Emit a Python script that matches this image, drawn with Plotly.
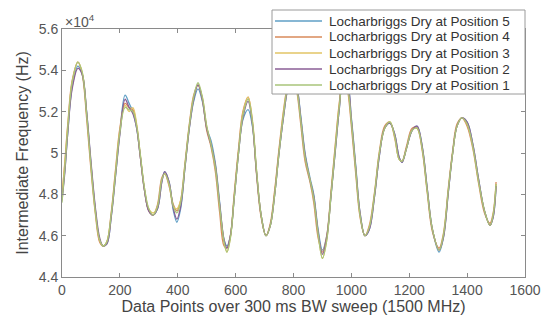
import plotly.graph_objects as go

x_points = [0, 10, 20, 35, 55, 70, 85, 100, 115, 130, 142, 155, 170, 185, 200, 218, 232, 245, 258, 270,
            285, 300, 315, 330, 345, 355, 370, 385, 397, 410, 425, 440, 455, 470, 485, 500, 515, 530, 545, 560,
            570, 582, 595, 610, 625, 643, 658, 672, 688, 705, 720, 735, 750, 765, 780, 795, 810, 825, 840, 857,
            870, 885, 900, 915, 930, 945, 958, 972, 985, 1000, 1015, 1030, 1047, 1062, 1080, 1097, 1115, 1133, 1150, 1165,
            1175, 1190, 1210, 1227, 1245, 1262, 1280, 1303, 1318, 1335, 1350, 1365, 1382, 1400, 1420, 1440, 1460, 1479, 1490, 1500]

pos5 = [4.78, 4.92, 5.10, 5.32, 5.42, 5.38, 5.20, 4.95, 4.73, 4.58, 4.55, 4.56, 4.69, 4.89, 5.10, 5.28, 5.24, 5.20, 5.12, 4.99,
        4.82, 4.72, 4.70, 4.73, 4.86, 4.91, 4.86, 4.72, 4.665, 4.73, 4.93, 5.12, 5.25, 5.31, 5.25, 5.12, 5.06, 4.95, 4.76, 4.58,
        4.55, 4.60, 4.78, 5.00, 5.16, 5.21, 5.13, 4.91, 4.70, 4.60, 4.65, 4.80, 5.00, 5.17, 5.31, 5.37, 5.33, 5.18, 5.00, 4.88,
        4.80, 4.63, 4.53, 4.60, 4.80, 5.02, 5.21, 5.35, 5.34, 5.17, 4.94, 4.71, 4.60, 4.63, 4.79, 4.99, 5.12, 5.145, 5.09, 4.98,
        4.955, 5.02, 5.11, 5.13, 5.03, 4.83, 4.63, 4.52, 4.59, 4.81, 5.00, 5.13, 5.17, 5.15, 5.04, 4.87, 4.72, 4.65, 4.69, 4.84]

pos4 = [4.79, 4.96, 5.14, 5.35, 5.44, 5.38, 5.17, 4.92, 4.71, 4.57, 4.55, 4.57, 4.71, 4.92, 5.12, 5.24, 5.22, 5.21, 5.13, 4.99,
        4.82, 4.72, 4.70, 4.75, 4.88, 4.90, 4.84, 4.75, 4.72, 4.77, 4.95, 5.14, 5.28, 5.33, 5.26, 5.11, 5.03, 4.91, 4.71, 4.55,
        4.54, 4.60, 4.80, 5.02, 5.20, 5.27, 5.15, 4.90, 4.69, 4.60, 4.66, 4.82, 5.02, 5.20, 5.33, 5.38, 5.31, 5.14, 4.96, 4.86,
        4.76, 4.59, 4.52, 4.60, 4.82, 5.05, 5.24, 5.37, 5.32, 5.13, 4.90, 4.69, 4.60, 4.65, 4.81, 5.01, 5.13, 5.15, 5.07, 4.97,
        4.96, 5.03, 5.12, 5.12, 5.01, 4.81, 4.62, 4.54, 4.61, 4.83, 5.01, 5.14, 5.17, 5.13, 5.02, 4.85, 4.71, 4.66, 4.71, 4.86]

pos3 = [4.80, 4.95, 5.13, 5.34, 5.44, 5.39, 5.19, 4.94, 4.72, 4.58, 4.55, 4.57, 4.70, 4.91, 5.11, 5.23, 5.20, 5.22, 5.14, 5.00,
        4.83, 4.73, 4.71, 4.74, 4.87, 4.90, 4.85, 4.74, 4.73, 4.77, 4.94, 5.13, 5.27, 5.33, 5.27, 5.13, 5.04, 4.93, 4.74, 4.57,
        4.52, 4.59, 4.79, 5.01, 5.19, 5.27, 5.16, 4.92, 4.70, 4.60, 4.65, 4.81, 5.01, 5.19, 5.32, 5.37, 5.32, 5.16, 4.98, 4.87,
        4.78, 4.61, 4.49, 4.58, 4.81, 5.04, 5.23, 5.36, 5.33, 5.15, 4.92, 4.70, 4.60, 4.64, 4.80, 5.00, 5.12, 5.15, 5.08, 4.97,
        4.96, 5.02, 5.11, 5.12, 5.02, 4.82, 4.63, 4.53, 4.60, 4.82, 5.00, 5.13, 5.17, 5.14, 5.03, 4.86, 4.72, 4.65, 4.70, 4.85]

pos2 = [4.77, 4.91, 5.10, 5.31, 5.41, 5.38, 5.20, 4.96, 4.74, 4.59, 4.55, 4.56, 4.69, 4.89, 5.09, 5.26, 5.22, 5.19, 5.12, 4.99,
        4.82, 4.72, 4.70, 4.73, 4.86, 4.91, 4.86, 4.73, 4.68, 4.74, 4.93, 5.12, 5.26, 5.33, 5.26, 5.12, 5.04, 4.94, 4.75, 4.58,
        4.54, 4.60, 4.78, 5.00, 5.17, 5.25, 5.14, 4.91, 4.70, 4.60, 4.65, 4.80, 5.00, 5.17, 5.31, 5.37, 5.33, 5.17, 4.99, 4.87,
        4.79, 4.62, 4.51, 4.59, 4.80, 5.02, 5.21, 5.35, 5.34, 5.16, 4.93, 4.71, 4.60, 4.63, 4.79, 4.99, 5.12, 5.145, 5.09, 4.98,
        4.955, 5.02, 5.11, 5.13, 5.03, 4.83, 4.63, 4.53, 4.59, 4.81, 5.00, 5.13, 5.17, 5.15, 5.04, 4.87, 4.72, 4.65, 4.69, 4.84]

pos1 = [4.76, 4.93, 5.12, 5.34, 5.44, 5.39, 5.19, 4.94, 4.72, 4.58, 4.55, 4.57, 4.70, 4.90, 5.10, 5.22, 5.21, 5.20, 5.13, 5.00,
        4.83, 4.73, 4.70, 4.74, 4.87, 4.90, 4.85, 4.74, 4.71, 4.76, 4.94, 5.13, 5.27, 5.34, 5.27, 5.13, 5.04, 4.93, 4.74, 4.57,
        4.52, 4.59, 4.78, 5.00, 5.18, 5.26, 5.15, 4.92, 4.70, 4.60, 4.65, 4.80, 5.00, 5.18, 5.32, 5.37, 5.32, 5.16, 4.98, 4.87,
        4.78, 4.61, 4.49, 4.58, 4.80, 5.03, 5.22, 5.36, 5.33, 5.15, 4.92, 4.70, 4.60, 4.64, 4.80, 5.00, 5.12, 5.15, 5.08, 4.97,
        4.96, 5.02, 5.11, 5.12, 5.02, 4.82, 4.63, 4.53, 4.60, 4.82, 5.00, 5.13, 5.17, 5.14, 5.03, 4.86, 4.72, 4.65, 4.70, 4.85]

series_names = ["Locharbriggs Dry at Position 5", "Locharbriggs Dry at Position 4",
                "Locharbriggs Dry at Position 3", "Locharbriggs Dry at Position 2",
                "Locharbriggs Dry at Position 1"]
series_values = [pos5, pos4, pos3, pos2, pos1]
series_colors = ["#5f9fc6", "#d98a5a", "#e2c565", "#8a5e96", "#a9c47a"]

x_ticks = [0, 200, 400, 600, 800, 1000, 1200, 1400, 1600]
y_ticks = [4.4, 4.6, 4.8, 5.0, 5.2, 5.4, 5.6]
y_tick_text = ["4.4", "4.6", "4.8", "5", "5.2", "5.4", "5.6"]

fig = go.Figure()
for name, vals, col in zip(series_names, series_values, series_colors):
    fig.add_trace(go.Scatter(x=x_points, y=vals, mode="lines", name=name,
                             line=dict(color=col, width=1.3, shape="spline", smoothing=1.0)))

# plot area geometry (px) used only for placing the legend box in paper units
PL, PR, PT, PB = 62, 525, 29, 277
def px_x(p):
    return (p - PL) / (PR - PL)
def px_y(p):
    return (PB - p) / (PB - PT)

# custom legend (box, line samples, labels) to match compact MATLAB legend
shapes = [dict(type="rect", xref="paper", yref="paper", x0=px_x(272), x1=px_x(525), y0=px_y(94), y1=px_y(10),
               fillcolor="white", line=dict(color="#9a9a9a", width=1), layer="above")]
annotations = []
for i, (name, col) in enumerate(zip(series_names, series_colors)):
    yc = 21 + 16 * i
    shapes.append(dict(type="line", xref="paper", yref="paper", x0=px_x(275), x1=px_x(322), y0=px_y(yc), y1=px_y(yc),
                       line=dict(color=col, width=1.3), layer="above"))
    annotations.append(dict(text=name, xref="paper", yref="paper", x=px_x(327), y=px_y(yc), xanchor="left",
                            yanchor="middle", showarrow=False, font=dict(size=13.5, color="#333333")))

annotations.append(dict(text="×10<sup>4</sup>", xref="paper", yref="paper", x=0.0, y=1.0, xanchor="left", yanchor="bottom",
                        showarrow=False, font=dict(size=14, color="#555555"), xshift=1, yshift=-3))

axis_col = "#8a8a8a"
fig.update_layout(
    width=549, height=324,
    margin=dict(l=PL, r=549 - PR, t=PT, b=324 - PB, autoexpand=False),
    paper_bgcolor="white", plot_bgcolor="white",
    font=dict(family="Liberation Sans, Arial, sans-serif", color="#4a4a4a", size=13),
    showlegend=False,
    shapes=shapes,
    annotations=annotations,
)
fig.update_xaxes(range=[0, 1600], tickvals=x_ticks, ticks="inside", ticklen=4, tickcolor=axis_col,
                 showline=True, linecolor=axis_col, linewidth=1, mirror="allticks", showgrid=False,
                 zeroline=False, tickfont=dict(size=14, color="#555555"),
                 title=dict(text="Data Points over 300 ms BW sweep (1500 MHz)", font=dict(size=16, color="#444444"), standoff=3))
fig.update_yaxes(range=[4.4, 5.6], tickvals=y_ticks, ticktext=y_tick_text, ticks="inside", ticklen=4, tickcolor=axis_col,
                 showline=True, linecolor=axis_col, linewidth=1, mirror="allticks", showgrid=False,
                 zeroline=False, tickfont=dict(size=14, color="#555555"),
                 title=dict(text="Intermediate Frequency (Hz)", font=dict(size=16, color="#444444"), standoff=6))

fig.write_html("out.html")
